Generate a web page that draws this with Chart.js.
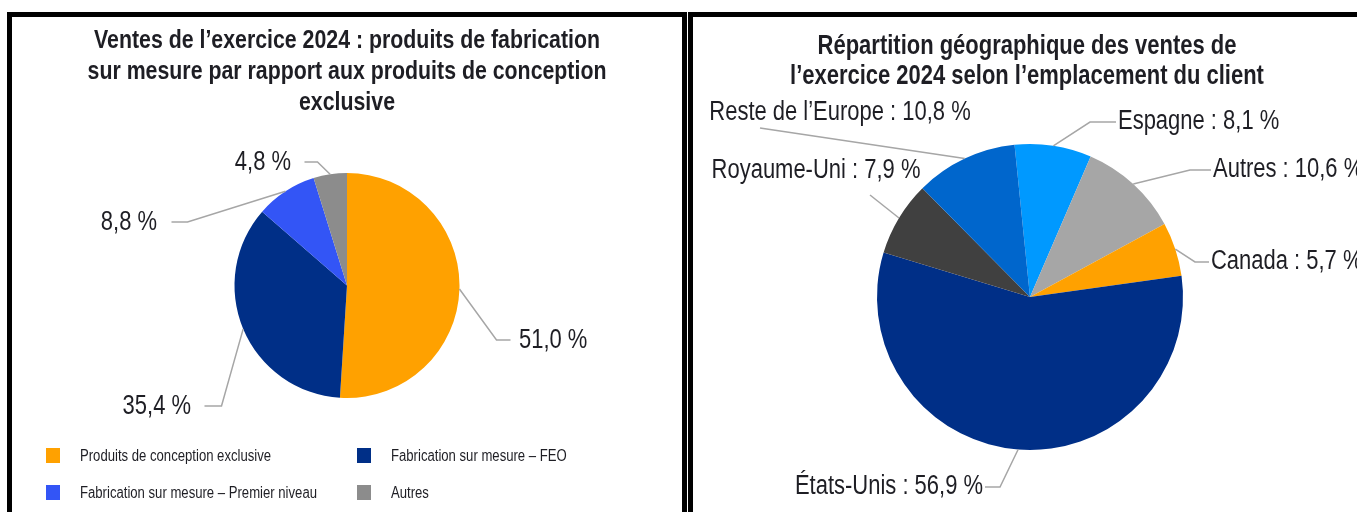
<!DOCTYPE html>
<html>
<head>
<meta charset="utf-8">
<script src="https://cdn.jsdelivr.net/npm/chart.js@4.4.1/dist/chart.umd.min.js"></script>
<style>
  body { margin:0; background:#fff; width:1357px; height:512px; overflow:hidden; position:relative; }
  .box { position:absolute; top:12px; border:5px solid #000; background:#fff; height:520px; }
  #leftBox { left:7px; width:670px; }
  #rightBox { left:688px; width:680px; }
  canvas { display:block; }
</style>
</head>
<body>
<div id="leftBox" class="box"><canvas id="chartProducts" width="670" height="495"></canvas></div>
<div id="rightBox" class="box"><canvas id="chartGeo" width="664" height="495"></canvas></div>
<script>
// left chart - product split
const productTitle = ["Ventes de l’exercice 2024 : produits de fabrication", "sur mesure par rapport aux produits de conception", "exclusive"];
const productLabels = ["Produits de conception exclusive", "Fabrication sur mesure – FEO", "Fabrication sur mesure – Premier niveau", "Autres"];
const productValues = [51.0, 35.4, 8.8, 4.8];
const productColours = ["#ffa100", "#002f87", "#3355f6", "#8c8c8c"];

// right chart - geographic split
const geoTitle = ["Répartition géographique des ventes de", "l’exercice 2024 selon l’emplacement du client"];
const geoLabels = ["Espagne", "Autres", "Canada", "États-Unis", "Royaume-Uni", "Reste de l’Europe"];
const geoValues = [8.1, 10.6, 5.7, 56.9, 7.9, 10.8];
const geoColours = ["#0099ff", "#a6a6a6", "#ffa100", "#002f87", "#404040", "#0066cc"];

// Arial Narrow look: Liberation Sans squeezed horizontally
const fam = "'Liberation Sans', Arial, sans-serif";
const squeeze = 0.82;
const textCol = "#1e1e24";

function pct(v){ return v.toFixed(1).replace(".", ",") + " %"; }

function narrowText(ctx, txt, x, y, font, align){
  ctx.save();
  ctx.translate(x, y);
  ctx.scale(squeeze, 1);
  ctx.font = font;
  ctx.fillStyle = textCol;
  ctx.textAlign = align;
  ctx.textBaseline = "middle";
  ctx.fillText(txt, 0, 0);
  ctx.restore();
}

// label placement, relative to the pie centre (elbow point, tail, text anchor)
const productLabelPlaces = [
  {ex:149.5, ey:54.5, tail:14, tx:172, ty:55, align:"left"},
  {ex:-125.5, ey:120.5, tail:-17, tx:-156, ty:121, align:"right"},
  {ex:-159.5, ey:-63.5, tail:-16, tx:-190, ty:-63, align:"right"},
  {ex:-29.5, ey:-123.5, tail:-13, tx:-56, ty:-123, align:"right"}
];
const geoLabelPlaces = [
  {ex:60, ey:-175, tail:26, tx:88, ty:-175, align:"left"},
  {ex:160, ey:-127, tail:21, tx:183, ty:-127, align:"left"},
  {ex:165, ey:-35, tail:14, tx:181, ty:-35, align:"left"},
  {ex:-30, ey:190, tail:-15, tx:-47, ty:190, align:"right"},
  {ex:-160, ey:-102, tail:0, tx:-214, ty:-126, align:"center"},
  {ex:-270, ey:-169, tail:0, tx:-190, ty:-184, align:"center"}
];

const leaderLabels = {
  id: 'leaderLabels',
  afterDatasetsDraw(chart, args, opts) {
    const ctx = chart.ctx;
    const meta = chart.getDatasetMeta(0);
    const vals = chart.data.datasets[0].data;
    ctx.save();
    meta.data.forEach((arc, i) => {
      const p = opts.places[i];
      const a = arc.getProps(['x','y','startAngle','endAngle','outerRadius'], true);
      const mid = (a.startAngle + a.endAngle) / 2;
      const ax = a.x + Math.cos(mid) * a.outerRadius;
      const ay = a.y + Math.sin(mid) * a.outerRadius;
      const ex = a.x + p.ex, ey = a.y + p.ey;
      ctx.beginPath();
      ctx.moveTo(ax, ay);
      ctx.lineTo(ex, ey);
      if (p.tail) ctx.lineTo(ex + p.tail, ey);
      ctx.strokeStyle = "#a6a6a6";
      ctx.lineWidth = 1.5;
      ctx.stroke();
      narrowText(ctx, opts.text(chart.data.labels[i], vals[i]), a.x + p.tx, a.y + p.ty, "26.8px " + fam, p.align);
    });
    ctx.restore();
  }
};

// title block drawn in the top padding
const topTitle = {
  id: 'topTitle',
  afterDraw(chart, args, opts) {
    opts.lines.forEach((ln, i) => {
      narrowText(chart.ctx, ln, opts.x, opts.y + i * opts.step, "bold " + opts.size + "px " + fam, "center");
    });
  }
};

// fixed 2x2 legend under the left pie
const gridLegend = {
  id: 'gridLegend',
  afterDraw(chart, args, opts) {
    if (!opts.show) return;
    const ctx = chart.ctx;
    const ds = chart.data.datasets[0];
    chart.data.labels.forEach((lab, i) => {
      const col = i % 2, row = Math.floor(i / 2);
      const x = 34 + col * 311, y = 431 + row * 37;
      ctx.fillStyle = ds.backgroundColor[i];
      ctx.fillRect(x, y, 14, 15);
      narrowText(ctx, lab, x + 34, y + 8.5, "16px " + fam, "left");
    });
  }
};

new Chart(document.getElementById("chartProducts"), {
  type: 'pie',
  data: {
    labels: productLabels,
    datasets: [{ data: productValues, backgroundColor: productColours, borderWidth: 0 }]
  },
  options: {
    responsive: false,
    animation: false,
    radius: 112.5,
    rotation: 0,
    layout: { padding: { top: 120, bottom: 78, left: 0, right: 0 } },
    plugins: {
      legend: { display: false },
      tooltip: { enabled: false },
      title: { display: false },
      topTitle: { lines: productTitle, x: 335, y: 24, step: 31, size: 26 },
      leaderLabels: { places: productLabelPlaces, text: (l, v) => pct(v) },
      gridLegend: { show: true }
    }
  },
  plugins: [leaderLabels, topTitle, gridLegend]
});

new Chart(document.getElementById("chartGeo"), {
  type: 'pie',
  data: {
    labels: geoLabels,
    datasets: [{ data: geoValues, backgroundColor: geoColours, borderWidth: 0 }]
  },
  options: {
    responsive: false,
    animation: false,
    radius: 153,
    rotation: -5.8,
    layout: { padding: { top: 100, bottom: 35, left: 10, right: 0 } },
    plugins: {
      legend: { display: false },
      tooltip: { enabled: false },
      title: { display: false },
      topTitle: { lines: geoTitle, x: 334, y: 29.5, step: 30, size: 26.8 },
      leaderLabels: { places: geoLabelPlaces, text: (l, v) => l + " : " + pct(v) },
      gridLegend: { show: false }
    }
  },
  plugins: [leaderLabels, topTitle, gridLegend]
});
</script>
</body>
</html>
